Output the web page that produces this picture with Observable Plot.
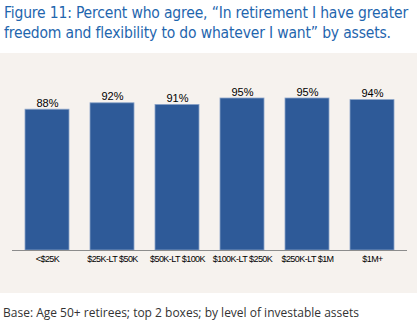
<!DOCTYPE html>
<html>
<head>
<meta charset="utf-8">
<script src="https://cdn.jsdelivr.net/npm/d3@7"></script>
<script src="https://cdn.jsdelivr.net/npm/@observablehq/plot@0.6"></script>
<style>
  html, body { margin: 0; padding: 0; background: #ffffff; width: 417px; overflow: hidden; }
  #title { font-family: "DejaVu Sans Condensed", "DejaVu Sans", sans-serif; font-stretch: condensed; font-size: 15.5px; line-height: 20px; color: #1f66ae; padding: 3px 0 0 4px; height: 53px; box-sizing: border-box; white-space: nowrap; }
  #title span { display: inline-block; }
  #panel { background: #f6f2ee; height: 240px; }
  #caption { font-family: "Open Sans", sans-serif; font-size: 12px; color: #333; padding: 11px 0 0 3px; white-space: nowrap; }
  svg text { font-family: "Liberation Sans", Arial, sans-serif; }
  svg g[aria-label="x-axis tick label"] text { letter-spacing: -0.55px; }
</style>
</head>
<body>
<div id="title"><span id="t1">Figure 11: Percent who agree, “In retirement I have greater</span><br><span id="t2">freedom and flexibility to do whatever I want” by assets.</span></div>
<div id="panel"></div>
<div id="caption">Base: Age 50+ retirees; top 2 boxes; by level of investable assets</div>
<script>
const categories = ["<$25K", "$25K-LT $50K", "$50K-LT $100K", "$100K-LT $250K", "$250K-LT $1M", "$1M+"];
const values = [88, 92, 91, 95, 95, 94];
const labels = ["88%", "92%", "91%", "95%", "95%", "94%"];

const data = categories.map((c, i) => ({category: c, value: values[i], label: labels[i]}));

// fit title first line to the reference's width (~404px)
(function fitTitle() {
  const t1 = document.getElementById("t1");
  const t2 = document.getElementById("t2");
  const w = t1.getBoundingClientRect().width;
  const n = t1.textContent.length;
  const ls = (404 - w) / n;
  t1.style.letterSpacing = ls + "px";
  t2.style.letterSpacing = ls + "px";
})();

const chart = Plot.plot({
  width: 417,
  height: 240,
  marginLeft: 12,
  marginRight: 10,
  marginTop: 37,
  marginBottom: 43,
  style: {background: "transparent", overflow: "visible"},
  x: {domain: categories, paddingInner: 0.33, paddingOuter: 0.165, label: null},
  y: {domain: [0, 100], axis: null},
  marks: [
    Plot.barY(data, {x: "category", y: "value", fill: "#2e5a98", stroke: "#8aa3c8", strokeWidth: 0.8}),
    Plot.ruleY([0], {stroke: "#8c8c8c", strokeWidth: 1.2}),
    Plot.text(data, {x: "category", y: "value", text: "label", dy: -3, lineAnchor: "bottom", fontSize: 11, fill: "#000"}),
    Plot.axisX({tickSize: 0, tickPadding: 5, fontSize: 9, fill: "#000", label: null})
  ]
});
document.getElementById("panel").appendChild(chart);
</script>
</body>
</html>
